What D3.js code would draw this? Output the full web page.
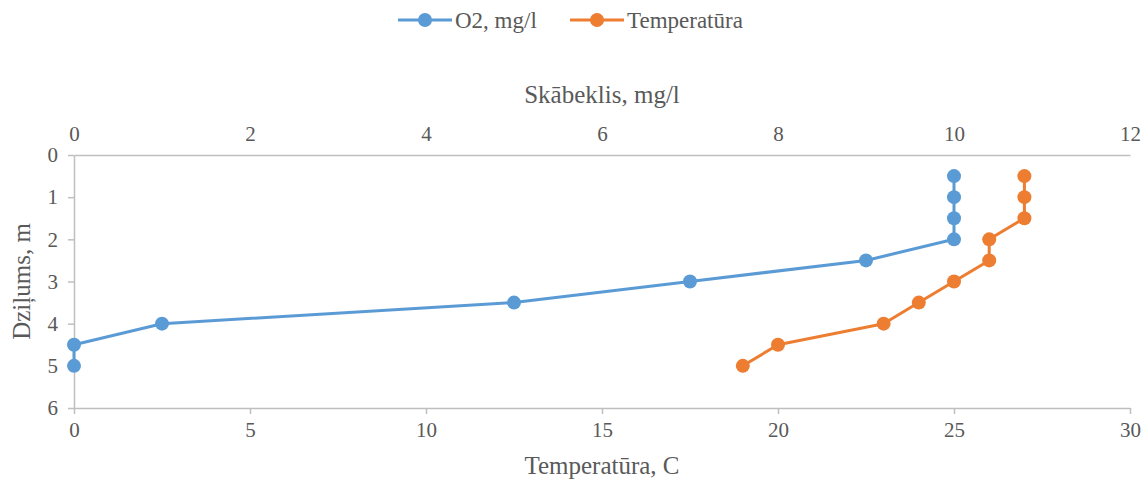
<!DOCTYPE html>
<html>
<head>
<meta charset="utf-8">
<script src="https://cdn.jsdelivr.net/npm/d3@7"></script>
<style>
  body { margin: 0; background: #fff; }
  svg text { font-family: "Liberation Serif", "Times New Roman", "DejaVu Serif", serif; fill: #595959; }
</style>
</head>
<body>
<div id="chart"></div>
<script>
const width = 1146, height = 488
const margin = {top: 155, right: 16, bottom: 80, left: 74}
const innerW = width - margin.left - margin.right
const innerH = height - margin.top - margin.bottom
const fontFam = "'Liberation Serif', 'Times New Roman', 'DejaVu Serif', serif"

// data
const depth = [0.5, 1, 1.5, 2, 2.5, 3, 3.5, 4, 4.5, 5]
const oxygen = [10, 10, 10, 10, 9, 7, 5, 1, 0, 0]
const temperature = [27, 27, 27, 26, 26, 25, 24, 23, 20, 19]
const seriesNames = ["O2, mg/l", "Temperatūra"]
const colors = ["#5B9BD5", "#ED7D31"]

const xO2 = d3.scaleLinear().domain([0, 12]).range([0, innerW])
const xTemp = d3.scaleLinear().domain([0, 30]).range([0, innerW])
const yScale = d3.scaleLinear().domain([0, 6]).range([0, innerH])

const root = d3.select("#chart").append("svg")
    .attr("width", width)
    .attr("height", height)
    .attr("font-family", fontFam)

const svg = root.append("g")
    .attr("transform", "translate(" + margin.left + "," + margin.top + ")")

function styleAxis(g) {
    g.attr("font-family", fontFam).attr("font-size", 21)
    g.selectAll("path, line").attr("stroke", "#BFBFBF").attr("stroke-width", 1.5)
    g.selectAll("text").attr("fill", "#595959")
}

// top axis (oxygen)
svg.append("g")
    .call(d3.axisTop(xO2).ticks(6).tickSize(0).tickSizeOuter(0).tickPadding(14))
    .call(styleAxis)

// bottom axis (temperature)
svg.append("g")
    .attr("transform", "translate(0," + innerH + ")")
    .call(d3.axisBottom(xTemp).ticks(6).tickSize(6).tickSizeOuter(0).tickPadding(8))
    .call(styleAxis)

// left axis (depth)
svg.append("g")
    .call(d3.axisLeft(yScale).ticks(6).tickSize(6).tickSizeOuter(0).tickPadding(10))
    .call(styleAxis)

// axis titles
root.append("text")
    .attr("x", margin.left + innerW / 2).attr("y", 103)
    .attr("text-anchor", "middle").attr("font-size", 25)
    .text("Skābeklis, mg/l")

root.append("text")
    .attr("x", margin.left + innerW / 2).attr("y", 474)
    .attr("text-anchor", "middle").attr("font-size", 25)
    .text("Temperatūra, C")

root.append("text")
    .attr("transform", "translate(30," + (margin.top + innerH / 2) + ") rotate(-90)")
    .attr("text-anchor", "middle").attr("font-size", 25)
    .text("Dziļums, m")

// series
const series = [
    {values: oxygen, x: xO2},
    {values: temperature, x: xTemp}
]

series.forEach((s, i) => {
    const pts = depth.map((d, j) => [s.x(s.values[j]), yScale(d)])
    svg.append("path")
        .datum(pts)
        .attr("fill", "none")
        .attr("stroke", colors[i])
        .attr("stroke-width", 3)
        .attr("stroke-linejoin", "round")
        .attr("d", d3.line())
    svg.selectAll(".dot" + i)
        .data(pts)
        .enter().append("circle")
        .attr("class", "dot" + i)
        .attr("cx", d => d[0])
        .attr("cy", d => d[1])
        .attr("r", 7)
        .attr("fill", colors[i])
})

// legend
const legendX = [398, 570]
seriesNames.forEach((name, i) => {
    const g = root.append("g").attr("transform", "translate(" + legendX[i] + ",20)")
    g.append("line").attr("x1", 0).attr("x2", 54).attr("y1", 0).attr("y2", 0)
        .attr("stroke", colors[i]).attr("stroke-width", 3)
    g.append("circle").attr("cx", 27).attr("cy", 0).attr("r", 7).attr("fill", colors[i])
    g.append("text").attr("x", 57).attr("y", 8).attr("font-size", 23).text(name)
})
</script>
</body>
</html>
